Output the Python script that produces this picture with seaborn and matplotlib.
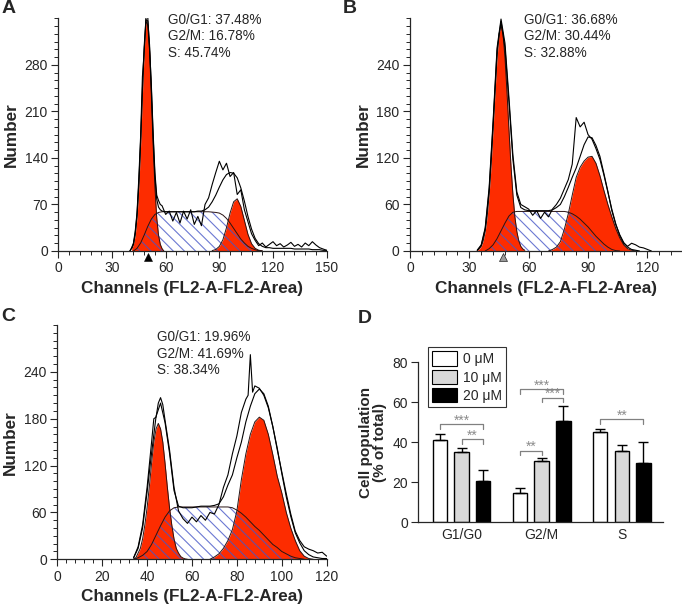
import pandas as pd
import seaborn as sns
import matplotlib.pyplot as plt
from matplotlib.ticker import MultipleLocator
from matplotlib.patches import Patch


# ---------------- panel A (0 uM) ----------------
a_g1_ch = list(range(41, 60))
a_g1 = [3.5, 10, 24, 50, 96, 159, 234, 301, 346, 340, 301, 234, 159, 96, 50, 24, 10, 3.5, 0]
a_s_ch = [42, 44, 46, 48, 50, 52, 54, 56, 58, 60, 64, 68, 72, 76, 80, 84, 88,
          90, 92, 94, 96, 98, 100, 102, 104, 106, 108, 110, 112, 114]
a_s = [0, 4, 12, 24, 37, 48, 55, 58, 59, 59, 59, 59, 59, 59, 59, 59, 58,
       57, 54, 49, 42, 34, 26, 18, 12, 7, 4, 2, 0.5, 0]
a_g2_ch = list(range(86, 116, 2))
a_g2 = [0.6, 2.2, 6.9, 17, 35, 57, 74, 78.5, 67, 46, 25, 11, 4, 1.2, 0.3]
a_fit_ch = list(range(40, 59)) + list(range(60, 152, 2))
a_fit = [0, 4, 10, 27, 55, 102, 166, 242, 308, 348, 346, 310, 245, 172, 112, 78, 66, 62, 60,
         59, 59, 59, 59, 59, 59, 59, 59, 59, 60, 60, 62, 66, 74, 84, 96, 107, 115, 118, 117,
         110, 95, 75, 52, 33, 19, 11, 7, 5, 5, 4, 4, 4, 4, 4, 4, 3, 3, 3, 3, 3, 2, 2, 2, 1, 1]
a_raw_ch = list(range(40, 59)) + list(range(60, 152, 2))
a_raw = [0, 5, 12, 30, 58, 110, 172, 262, 300, 352, 352, 305, 250, 178, 118, 84, 76, 70, 68,
         55, 60, 45, 58, 42, 60, 48, 62, 40, 52, 38, 70, 80, 100, 118, 135, 122, 132, 112, 118,
         85, 92, 62, 44, 26, 16, 8, 12, 6, 10, 14, 8, 11, 6, 9, 13, 7, 10, 6, 12, 8, 14, 9, 5, 3, 1]
a_marker = 50
a_stats = ['G0/G1: 37.48%', 'G2/M: 16.78%', 'S: 45.74%']

# ---------------- panel B (10 uM) ----------------
b_g1_ch = list(range(34, 59))
b_g1 = [1, 2.7, 6, 13, 25, 44, 73, 111, 157, 206, 249, 280, 291, 280, 249, 206, 157,
        111, 73, 44, 25, 13, 6, 2.7, 1]
b_s_ch = [38, 40, 42, 44, 46, 48, 50, 52, 54, 58, 62, 66, 70, 74, 78,
          80, 82, 84, 86, 88, 90, 92, 94, 96, 98, 100, 102, 104, 106]
b_s = [0, 3, 8, 16, 26, 36, 45, 50, 51, 51, 51, 51, 51, 51, 51,
       50, 48, 45, 41, 36, 31, 25, 19, 14, 9, 5, 2, 0.5, 0]
b_g2_ch = list(range(70, 116, 2))
b_g2 = [0, 2, 5, 12, 28, 48, 72, 95, 108, 116, 121, 122, 113, 97, 78, 60, 44, 29, 17, 8, 3, 1, 0]
b_fit_ch = list(range(34, 118, 2))
b_fit = [1, 7, 28, 78, 163, 258, 296, 262, 192, 118, 72, 56, 53, 52, 52, 52, 52, 52, 52, 53,
         56, 60, 70, 82, 95, 107, 122, 137, 147, 146, 136, 122, 100, 77, 52, 34, 21, 11, 5, 2, 1, 0]
b_raw_ch = list(range(34, 124, 2))
b_raw = [1, 8, 30, 82, 168, 262, 299, 268, 198, 124, 76, 60, 57, 54, 46, 52, 42, 50, 44, 54,
         60, 68, 80, 92, 112, 172, 160, 166, 150, 144, 132, 118, 98, 76, 54, 35, 20, 10, 6, 10,
         8, 5, 4, 2, 0]
b_marker = 47
b_stats = ['G0/G1: 36.68%', 'G2/M: 30.44%', 'S: 32.88%']

# ---------------- panel C (20 uM) ----------------
c_g1_ch = list(range(34, 59))
c_g1 = [0.5, 2, 8, 14, 26, 44, 66, 93, 123, 150, 167, 174, 167, 150, 123, 93, 66, 44, 26,
        14, 8, 3.5, 1.6, 0.5, 0]
c_s_ch = [34, 36, 38, 40, 42, 44, 46, 48, 50, 52, 54, 58, 62, 66, 70, 74, 76,
          78, 80, 82, 84, 86, 88, 90, 92, 94, 96, 98, 100, 102, 104, 106, 108, 110]
c_s = [0, 2, 5, 10, 19, 31, 43, 54, 62, 66, 67, 67, 67, 67, 67, 67, 67,
       66, 63, 59, 54, 48, 42, 37, 31, 25, 19, 15, 10, 7, 4, 2, 1, 0]
c_g2_ch = list(range(68, 116, 2))
c_g2 = [0, 3, 7, 14, 24, 38, 62, 102, 135, 160, 176, 182, 178, 160, 134, 106, 85, 60, 40,
        24, 11, 4, 1, 0]
c_fit_ch = list(range(34, 122, 2))
c_fit = [2, 14, 40, 86, 136, 183, 200, 175, 136, 88, 68, 66, 66, 66, 67, 68, 68, 68, 69, 71,
         80, 95, 108, 130, 150, 176, 196, 212, 218, 212, 196, 170, 142, 110, 80, 55, 34, 21,
         11, 6, 3, 2, 1, 1]
c_raw_ch = [34, 36, 38, 40, 42, 43, 44, 45, 46, 47, 48] + list(range(50, 86, 2)) + \
    [85, 86, 87] + list(range(88, 122, 2))
c_raw = [2, 16, 44, 92, 150, 180, 182, 200, 207, 198, 178,
         140, 92, 62, 52, 46, 54, 48, 56, 50, 60, 58, 70, 92, 108, 135, 158, 188, 205,
         210, 262, 214,
         222, 219, 210, 194, 170, 140, 112, 84, 58, 36, 24, 16, 13, 11, 8, 9, 4]
c_stats = ['G0/G1: 19.96%', 'G2/M: 41.69%', 'S: 38.34%']

# ---------------- panel D ----------------
phases = ['G1/G0', 'G2/M', 'S']
doses = ['0 μM', '10 μM', '20 μM']
mean_0 = [41, 14.5, 45]
mean_10 = [35, 30.5, 35.5]
mean_20 = [20.5, 50.5, 29.5]
sem_0 = [2.8, 2.5, 1.7]
sem_10 = [1.8, 1.5, 3.2]
sem_20 = [5.5, 7.5, 10.7]
# significance brackets: phase index, from dose, to dose, height, label
sig_phase = [0, 0, 1, 1, 1, 2]
sig_from = [0, 1, 0, 1, 0, 0]
sig_to = [2, 2, 2, 2, 1, 2]
sig_y = [48.8, 41.3, 66.5, 62.2, 35.7, 51.3]
sig_text = ['***', '**', '***', '***', '**', '**']

RED = '#fd2c00'
HATCH_COLOR = (0.28, 0.34, 0.78, 0.8)
BAR_COLORS = ['white', '#d9d9d9', 'black']

sns.set_style('ticks')
plt.rcParams['font.family'] = ['Liberation Sans', 'DejaVu Sans']
plt.rcParams['hatch.linewidth'] = 0.8
plt.rcParams['axes.linewidth'] = 0.9


def draw_histogram(ax, g1_ch, g1, s_ch, s, g2_ch, g2, fit_ch, fit, raw_ch, raw):
  ax.fill_between(g1_ch, g1, 0, color=RED, lw=0, zorder=1)
  ax.fill_between(g2_ch, g2, 0, color=RED, lw=0, zorder=1)
  ax.fill_between(s_ch, s, 0, facecolor='none', edgecolor=HATCH_COLOR,
                  hatch='\\\\\\', lw=0, zorder=2)
  for x, y in [(g1_ch, g1), (s_ch, s), (g2_ch, g2)]:
    sns.lineplot(x=x, y=y, ax=ax, color='#2a1414', lw=0.7, zorder=3)
  sns.lineplot(x=fit_ch, y=fit, ax=ax, color='black', lw=0.8, zorder=4)
  sns.lineplot(x=raw_ch, y=raw, ax=ax, color='black', lw=0.8, zorder=4)


def style_histogram(ax, xmax, xmajor, xminor, ymax, ymajor, yminor, stats, stats_xy):
  ax.set_xlim(0, xmax)
  ax.xaxis.set_major_locator(MultipleLocator(xmajor))
  ax.xaxis.set_minor_locator(MultipleLocator(xminor))
  ax.yaxis.set_minor_locator(MultipleLocator(yminor))
  ax.set_yticks(list(range(0, ymax - 39, ymajor)))
  ax.set_ylim(0, ymax)
  ax.tick_params(which='major', length=5, width=0.8, labelsize=10, pad=2.5)
  ax.tick_params(which='minor', length=3, width=0.7)
  sns.despine(ax=ax)
  ax.set_xlabel('Channels (FL2-A-FL2-Area)', fontsize=12.3, fontweight='bold', labelpad=4)
  ax.set_ylabel('Number', fontsize=12.3, fontweight='bold', labelpad=4)
  ax.text(stats_xy[0], stats_xy[1], '\n'.join(stats), transform=ax.transAxes,
          va='top', ha='left', fontsize=9.8, linespacing=1.2)


def add_marker(ax, ch, color):
  ax.plot([ch], [-0.024], marker='^', color=color, markersize=6, mec='black', mew=0.4,
          transform=ax.get_xaxis_transform(), clip_on=False, zorder=5)


fig = plt.figure(figsize=(6.82, 6.07), dpi=100)
ax_a = fig.add_axes([0.0855, 0.5865, 0.3935, 0.3834])
ax_b = fig.add_axes([0.6012, 0.5865, 0.3974, 0.3834])
ax_c = fig.add_axes([0.0840, 0.0786, 0.3950, 0.3860])
ax_d = fig.add_axes([0.6133, 0.1400, 0.3584, 0.2636])

draw_histogram(ax_a, a_g1_ch, a_g1, a_s_ch, a_s, a_g2_ch, a_g2, a_fit_ch, a_fit, a_raw_ch, a_raw)
style_histogram(ax_a, 150, 30, 6, 350, 70, 70 / 6, a_stats, (0.41, 1.022))
add_marker(ax_a, a_marker, 'black')

draw_histogram(ax_b, b_g1_ch, b_g1, b_s_ch, b_s, b_g2_ch, b_g2, b_fit_ch, b_fit, b_raw_ch, b_raw)
style_histogram(ax_b, 137, 30, 6, 300, 60, 10, b_stats, (0.422, 1.022))
add_marker(ax_b, b_marker, '#9a9a9a')

draw_histogram(ax_c, c_g1_ch, c_g1, c_s_ch, c_s, c_g2_ch, c_g2, c_fit_ch, c_fit, c_raw_ch, c_raw)
style_histogram(ax_c, 120, 20, 4, 300, 60, 10, c_stats, (0.369, 0.977))

# ---- panel D: grouped bars ----
df = pd.DataFrame({
  'phase': phases * 3,
  'dose': [d for d in doses for _ in phases],
  'value': mean_0 + mean_10 + mean_20,
})
sns.barplot(data=df, x='phase', y='value', hue='dose', order=phases, hue_order=doses,
            palette=BAR_COLORS, edgecolor='black', linewidth=1, width=0.81, gap=0.33,
            errorbar=None, legend=False, ax=ax_d, zorder=2)

bars = sorted(ax_d.patches, key=lambda p: p.get_x())
centers = [p.get_x() + p.get_width() / 2 for p in bars]
tops = [p.get_height() for p in bars]
errs = [e for trio in zip(sem_0, sem_10, sem_20) for e in trio]
ax_d.errorbar(centers, tops, yerr=[[0] * len(errs), errs], fmt='none', ecolor='black',
              elinewidth=1, capsize=3.8, capthick=1, zorder=3)

for ph, i, j, y, txt in zip(sig_phase, sig_from, sig_to, sig_y, sig_text):
  x1 = centers[ph * 3 + i]
  x2 = centers[ph * 3 + j]
  ax_d.plot([x1, x1, x2, x2], [y - 2.4, y, y, y - 2.4], color='#808080', lw=0.9, zorder=3)
  ax_d.text((x1 + x2) / 2, y - 0.3, txt, ha='center', va='baseline', color='#8c8c8c',
            fontsize=10)

ax_d.set_xlim(-0.54, 2.51)
ax_d.set_ylim(0, 80)
ax_d.yaxis.set_major_locator(MultipleLocator(20))
ax_d.tick_params(axis='y', length=5, width=0.8, labelsize=10, pad=2.5)
ax_d.tick_params(axis='x', length=0, labelsize=10, pad=4)
sns.despine(ax=ax_d)
ax_d.set_xlabel('')
ax_d.set_ylabel('Cell population\n(% of total)', fontsize=11, fontweight='bold',
                labelpad=4, linespacing=0.95)

handles = [Patch(facecolor=c, edgecolor='black', lw=0.8, label=d)
           for c, d in zip(BAR_COLORS, doses)]
leg = ax_d.legend(handles=handles, loc='upper left', bbox_to_anchor=(0.041, 1.092),
                  frameon=True, fancybox=False, edgecolor='black', fontsize=10,
                  handlelength=1.8, handleheight=1.2, labelspacing=0.25,
                  handletextpad=0.4, borderpad=0.3, borderaxespad=0)
leg.get_frame().set_linewidth(0.8)

# panel letters
for letter, x, y in [('A', 0.002, 1.0), ('B', 0.5025, 1.0), ('C', 0.0025, 0.4926),
                     ('D', 0.5245, 0.4901)]:
  fig.text(x, y, letter, ha='left', va='top', fontsize=14, fontweight='bold')

plt.savefig('out.png', dpi=100)
